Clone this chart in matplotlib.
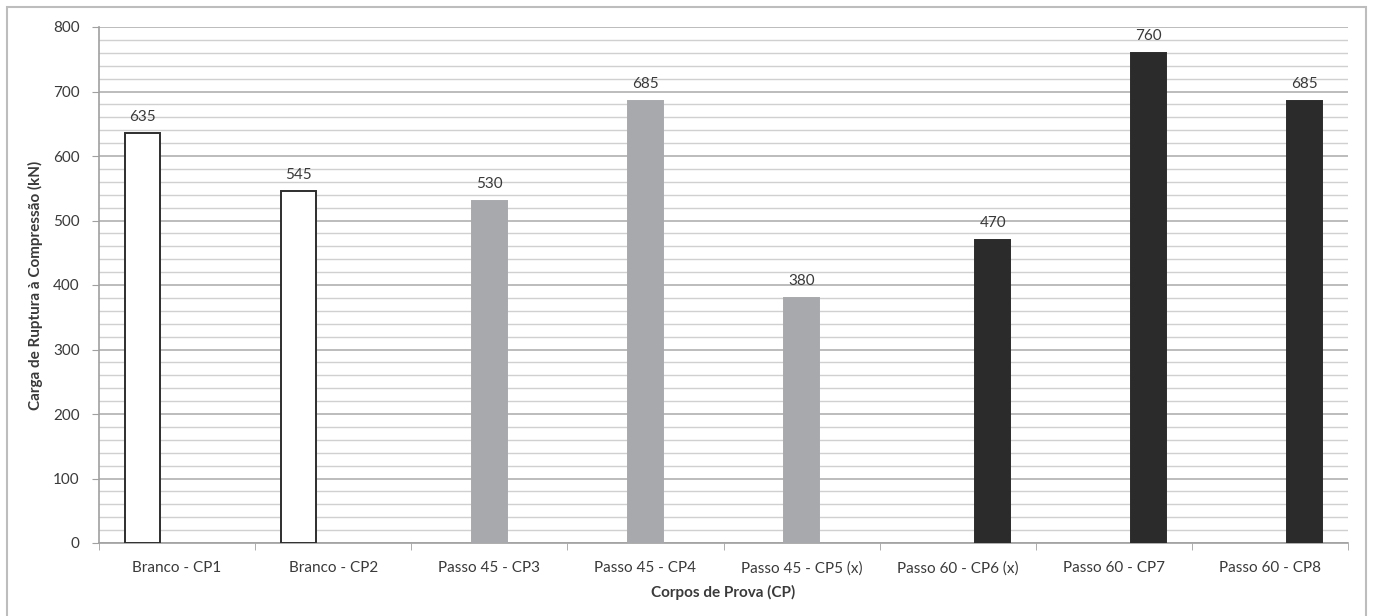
import matplotlib
matplotlib.use("Agg")
import matplotlib.pyplot as plt
from matplotlib.patches import Rectangle
from matplotlib.ticker import MultipleLocator, FixedLocator
import numpy as np

categories = ["Branco - CP1", "Branco - CP2", "Passo 45 - CP3", "Passo 45 - CP4",
              "Passo 45 - CP5 (x)", "Passo 60 - CP6 (x)", "Passo 60 - CP7", "Passo 60 - CP8"]
branco = [635, 545, None, None, None, None, None, None]
passo45 = [None, None, 530, 685, 380, None, None, None]
passo60 = [None, None, None, None, None, 470, 760, 685]

plt.rcParams['font.family'] = ['Lato', 'DejaVu Sans']

W, H = 1373, 616
fig = plt.figure(figsize=(W / 100, H / 100), dpi=100)
fig.patch.set_facecolor("white")

# outer chart frame (bottom edge runs past the canvas)
fig.patches.append(Rectangle((7 / W, -5 / H), (1366 - 7) / W, (609 + 5) / H,
                             transform=fig.transFigure, fill=False,
                             edgecolor="#bdbdbd", linewidth=1.5))

ax = fig.add_axes([99 / W, (H - 543) / H, (1348 - 99) / W, (543 - 27) / H])

x = np.arange(len(categories))
bw = 0.224
series = [
    (branco, -bw, "white", "#2e2e2e"),
    (passo45, 0.0, "#a7a9ac", "#a7a9ac"),
    (passo60, bw, "#2b2b2b", "#2b2b2b"),
]
for vals, off, fc, ec in series:
    xs = [xi + off for xi, v in zip(x, vals) if v is not None]
    vs = [v for v in vals if v is not None]
    bars = ax.bar(xs, vs, width=bw, color=fc, edgecolor=ec, linewidth=1.4, zorder=3)
    for b, v in zip(bars, vs):
        ax.annotate(f"{v}", (b.get_x() + b.get_width() / 2, v),
                    xytext=(0, 7), textcoords="offset points",
                    ha="center", va="bottom", fontsize=11, color="#3a3a3a")

ax.set_xlim(-0.5, len(categories) - 0.5)
ax.set_ylim(0, 800)
ax.yaxis.set_major_locator(MultipleLocator(100))
ax.yaxis.set_minor_locator(MultipleLocator(20))
ax.grid(axis="y", which="minor", color="#d0d0d0", linewidth=1.0, zorder=0)
ax.grid(axis="y", which="major", color="#b0b0b0", linewidth=1.2, zorder=0)
ax.set_axisbelow(True)

ax.set_xticks(x)
ax.set_xticklabels(categories, fontsize=11, color="#3a3a3a")
ax.xaxis.set_minor_locator(FixedLocator(np.arange(-0.5, len(categories), 1.0)))
ax.tick_params(axis="x", which="major", length=0, pad=13)
ax.tick_params(axis="x", which="minor", length=5, color="#a0a0a0", direction="out")
ax.tick_params(axis="y", which="major", length=5, color="#a0a0a0", labelsize=11,
               labelcolor="#3a3a3a", pad=9)
ax.tick_params(axis="y", which="minor", length=0)

for s in ["top", "right"]:
    ax.spines[s].set_visible(False)
ax.spines["left"].set_color("#a0a0a0")
ax.spines["bottom"].set_color("#a0a0a0")
ax.spines["left"].set_linewidth(1.2)
ax.spines["bottom"].set_linewidth(1.2)

ax.set_xlabel("Corpos de Prova (CP)", fontsize=11, fontweight="bold",
              color="#3a3a3a", labelpad=7)
ax.set_ylabel("Carga de Ruptura à Compressão (kN)", fontsize=11, fontweight="bold",
              color="#3a3a3a", labelpad=7)

fig.savefig("out.png", dpi=100, facecolor="white")
